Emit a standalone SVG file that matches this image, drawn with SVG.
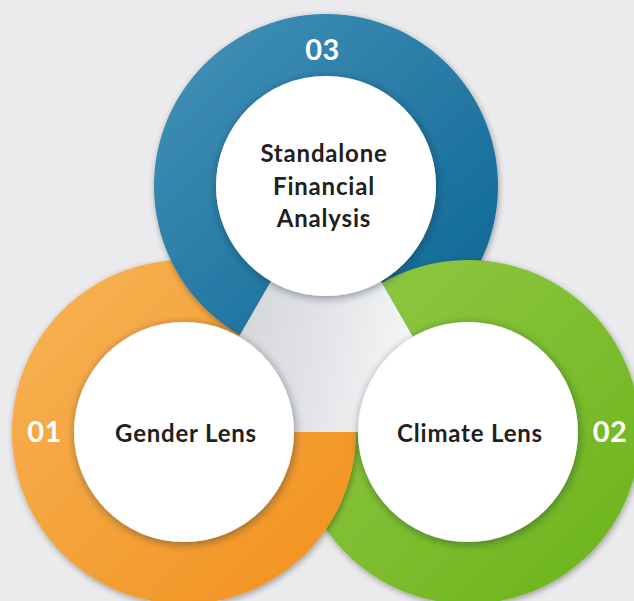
<svg xmlns="http://www.w3.org/2000/svg" width="634" height="601" viewBox="0 0 634 601">
<defs>
<style>
.lbl{font-family:Lato,"Open Sans","Liberation Sans",sans-serif;font-weight:700;font-size:24px;letter-spacing:0.8px;fill:#231f20;text-anchor:middle}
.num{font-family:Lato,"Open Sans","Liberation Sans",sans-serif;font-weight:700;font-size:29px;letter-spacing:0.5px;fill:#ffffff;text-anchor:middle}
.white{fill:#ffffff;filter:url(#circleShadow)}
</style>
<linearGradient id="gBlue" x1="0" y1="0" x2="1" y2="1"><stop offset="0" stop-color="#4593b8"/><stop offset="1" stop-color="#0b6594"/></linearGradient>
<linearGradient id="gOrange" x1="0" y1="0" x2="1" y2="1"><stop offset="0" stop-color="#f7b458"/><stop offset="1" stop-color="#f2901c"/></linearGradient>
<linearGradient id="gGreen" x1="0" y1="0" x2="1" y2="1"><stop offset="0" stop-color="#93c947"/><stop offset="1" stop-color="#6ab31a"/></linearGradient>
<linearGradient id="gTri" gradientUnits="userSpaceOnUse" x1="240" y1="300" x2="415" y2="330"><stop offset="0" stop-color="#d4d6da"/><stop offset="0.5" stop-color="#e3e4e7"/><stop offset="1" stop-color="#f5f6f7"/></linearGradient>
<filter id="ringShadow" x="-15%" y="-15%" width="130%" height="130%"><feDropShadow dx="1" dy="2" stdDeviation="3" flood-color="#000000" flood-opacity="0.35"/></filter>
<filter id="circleShadow" x="-15%" y="-15%" width="130%" height="130%"><feDropShadow dx="1" dy="2" stdDeviation="4" flood-color="#1a2030" flood-opacity="0.45"/></filter>
<path id="ringBlue" fill="url(#gBlue)" d="M 240,334.96 A 172 172 0 1 1 412,334.96 L 381,281.26 A 110 110 0 1 0 271,281.26 Z"/>
<path id="ringOrange" fill="url(#gOrange)" d="M 356,432 A 172 172 0 1 1 270,283.04 L 239,336.74 A 110 110 0 1 0 294,432 Z"/>
<path id="ringGreen" fill="url(#gGreen)" d="M 382,283.04 A 172 172 0 1 1 296,432 L 358,432 A 110 110 0 1 0 413,336.74 Z"/>
<clipPath id="clipTR"><rect x="370" y="0" width="264" height="345"/></clipPath>
<clipPath id="clipBG"><use href="#ringBlue"/><use href="#ringGreen"/></clipPath>
</defs>
<rect width="634" height="601" fill="#ebebed"/>
<g id="rings">
<use href="#ringGreen" filter="url(#ringShadow)"/>
<use href="#ringOrange" filter="url(#ringShadow)"/>
<use href="#ringBlue" filter="url(#ringShadow)"/>
<g clip-path="url(#clipTR)"><g clip-path="url(#clipBG)"><use href="#ringGreen" filter="url(#ringShadow)"/></g></g>
</g>
<g id="center">
<path fill="url(#gTri)" d="M 271,281.26 L 239,336.74 A 110 110 0 0 1 294,432 L 358,432 A 110 110 0 0 1 413,336.74 L 381,281.26 A 110 110 0 0 1 271,281.26 Z"/>
</g>
<g id="connectors"/>
<g id="node-03">
<circle class="white" cx="326" cy="186" r="110"/>
<text class="lbl" x="324" y="162">Standalone</text>
<text class="lbl" x="324" y="195">Financial</text>
<text class="lbl" x="324" y="227">Analysis</text>
<text class="num" x="322.5" y="60">03</text>
</g>
<g id="node-01">
<circle class="white" cx="184" cy="432" r="110"/>
<text class="lbl" x="186" y="442">Gender Lens</text>
<text class="num" x="44.5" y="442">01</text>
</g>
<g id="node-02">
<circle class="white" cx="468" cy="432" r="110"/>
<text class="lbl" x="470" y="442">Climate Lens</text>
<text class="num" x="610" y="442">02</text>
</g>
</svg>
